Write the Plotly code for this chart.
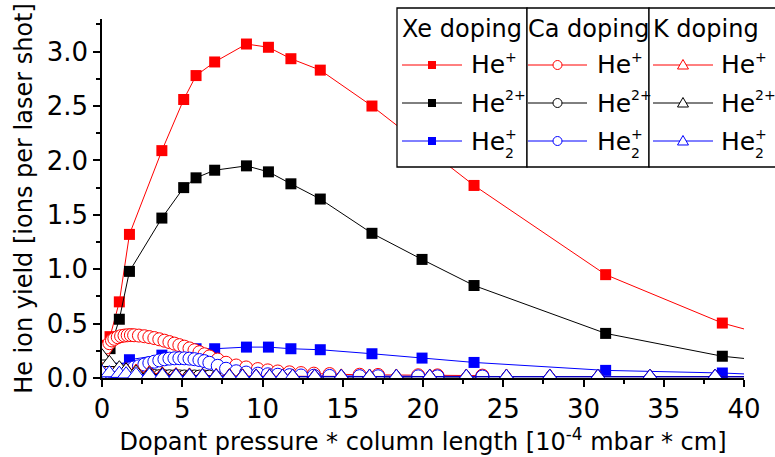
import plotly.graph_objects as go

# ---------------- data ----------------
xe_x = [0.15, 0.5, 1.08, 1.71, 3.73, 5.09, 5.86, 7.02, 9.0, 10.37, 11.77, 13.6,
        16.82, 19.94, 23.18, 31.38, 38.65, 46.0]
xe_he_p = [0.30, 0.38, 0.70, 1.32, 2.09, 2.56, 2.78, 2.905, 3.07, 3.04, 2.935, 2.83,
           2.50, 2.14, 1.77, 0.95, 0.505, 0.21]
xe_he_2p = [0.12, 0.27, 0.54, 0.98, 1.47, 1.75, 1.84, 1.91, 1.95, 1.895, 1.785, 1.645,
            1.33, 1.09, 0.85, 0.41, 0.20, 0.09]
xe_he2_p = [0.03, 0.05, 0.09, 0.168, 0.21, 0.244, 0.269, 0.269, 0.284, 0.284, 0.269, 0.26,
            0.223, 0.183, 0.143, 0.07, 0.046, 0.0]

ca_x = [0.0, 0.1, 0.25, 0.46, 0.62, 0.77, 0.98, 1.19, 1.4, 1.6, 1.8, 2.0, 2.3, 2.64,
        2.95, 3.26, 3.57, 3.89, 4.2, 4.51, 4.82, 5.13, 5.45, 5.76, 6.07, 6.38, 6.69,
        7.21, 7.73, 8.36, 8.98, 9.71, 10.33, 10.95, 11.68, 12.4, 13.2, 14.18, 16.05,
        17.2, 19.7, 20.9, 23.7]
ca_he_p = [0.19, 0.24, 0.28, 0.32, 0.345, 0.36, 0.375, 0.385, 0.39, 0.393, 0.394, 0.393,
           0.39, 0.384, 0.376, 0.367, 0.356, 0.343, 0.33, 0.316, 0.302, 0.288, 0.272,
           0.255, 0.237, 0.218, 0.198, 0.17, 0.14, 0.115, 0.097, 0.082, 0.07, 0.06,
           0.052, 0.045, 0.04, 0.036, 0.03, 0.028, 0.025, 0.024, 0.022]
ca_he_2p = [0.17, 0.15, 0.125, 0.10, 0.085, 0.072, 0.06, 0.05, 0.043, 0.037, 0.032, 0.028,
            0.024, 0.021, 0.019, 0.018, 0.017, 0.016, 0.016, 0.015, 0.015, 0.014, 0.014,
            0.014, 0.013, 0.013, 0.013, 0.012, 0.012, 0.012, 0.012, 0.011, 0.011, 0.011,
            0.011, 0.011, 0.01, 0.01, 0.01, 0.01, 0.01, 0.01, 0.01]
ca_he2_p = [0.045, 0.047, 0.05, 0.054, 0.058, 0.062, 0.067, 0.072, 0.077, 0.083, 0.09,
            0.097, 0.108, 0.124, 0.138, 0.15, 0.162, 0.172, 0.178, 0.181, 0.182, 0.181,
            0.178, 0.173, 0.165, 0.155, 0.14, 0.112, 0.085, 0.062, 0.05, 0.04, 0.034,
            0.03, 0.026, 0.023, 0.021, 0.019, 0.017, 0.016, 0.015, 0.015, 0.014]

k_x = [0.0, 0.46, 1.08, 1.5, 2.12, 2.95, 3.76, 4.61, 5.45, 6.26, 7.11, 7.94, 8.75, 9.6,
       10.44, 11.25, 11.88, 13.25, 14.91, 16.67, 18.34, 20.42, 22.7, 25.2, 27.9, 30.9,
       34.14, 38.2, 42.5]
k_he_p = [0.075, 0.075, 0.074, 0.072, 0.06, 0.045, 0.035, 0.028, 0.024, 0.021, 0.019,
          0.018, 0.017, 0.016, 0.015, 0.015, 0.015, 0.015, 0.015, 0.014, 0.014, 0.014,
          0.014, 0.014, 0.014, 0.013, 0.013, 0.013, 0.013]
k_he_2p = [0.20, 0.14, 0.09, 0.07, 0.05, 0.035, 0.028, 0.022, 0.02, 0.018, 0.016, 0.015,
           0.014, 0.013, 0.013, 0.012, 0.012, 0.012, 0.012, 0.012, 0.012, 0.012, 0.012,
           0.012, 0.012, 0.012, 0.012, 0.012, 0.012]
k_he2_p = [0.05, 0.045, 0.04, 0.035, 0.03, 0.025, 0.02, 0.018, 0.016, 0.015, 0.014, 0.013,
           0.012, 0.012, 0.012, 0.012, 0.012, 0.011, 0.011, 0.011, 0.011, 0.011, 0.011,
           0.011, 0.011, 0.011, 0.011, 0.011, 0.011]

x_ticks = [0, 5, 10, 15, 20, 25, 30, 35, 40]
y_ticks = [0.0, 0.5, 1.0, 1.5, 2.0, 2.5, 3.0]
group_titles = ["Xe doping", "Ca doping", "K doping"]
ion_base = ["He", "He", "He"]
ion_sup = ["+", "2+", "+"]
ion_sub = ["", "", "2"]

RED, BLACK, BLUE = "#ff0000", "#000000", "#0000ff"
colors = [RED, BLACK, BLUE]
FONT = "DejaVu Sans"

fig = go.Figure()

series = [
    ("Xe", xe_x, [xe_he_p, xe_he_2p, xe_he2_p]),
    ("Ca", ca_x, [ca_he_p, ca_he_2p, ca_he2_p]),
    ("K", k_x, [k_he_p, k_he_2p, k_he2_p]),
]
names = ["He+", "He2+", "He2+ (dimer)"]
for grp, xs, ys_list in series:
    for ys, c, nm in zip(ys_list, colors, names):
        if grp == "Xe":
            marker = dict(symbol="square", size=11, color=c, line=dict(width=0))
        elif grp == "Ca":
            marker = dict(symbol="circle", size=13, color="white", line=dict(color=c, width=1))
        else:
            marker = dict(symbol="triangle-up", size=15, color="white", line=dict(color=c, width=1))
        fig.add_trace(go.Scatter(
            x=xs, y=ys, mode="lines+markers", name=f"{grp} doping {nm}",
            line=dict(color=c, width=1), marker=marker, showlegend=False))

# ---------------- geometry helpers for legend (pixels -> paper) ----------------
L, R, T, B = 102, 31, 19, 79
W, H = 775, 457
PW, PH = W - L - R, H - T - B


def X(px):
    return (px - L) / PW


def Y(py):
    return (H - B - py) / PH


shapes = []
annotations = []
box_x = [397, 527, 649, 800]
box_top, box_bot = 8, 167
for i in range(3):
    shapes.append(dict(type="rect", xref="paper", yref="paper",
                       x0=X(box_x[i]), x1=X(box_x[i + 1]), y0=Y(box_bot), y1=Y(box_top),
                       line=dict(color="black", width=1.3), fillcolor="white", layer="above"))

row_y = [65, 103, 141]
sup_y = [57, 95, 134]
sub_y = [0, 0, 153]
line_x = [(402, 462), (528, 587), (653, 713)]
text_x = [469, 595, 719]
title_x = [400, 526, 651]


def txt(s, px, py, size):
    return dict(text=s, xref="paper", yref="paper", x=X(px), y=Y(py),
                xanchor="left", yanchor="middle", showarrow=False,
                font=dict(family=FONT, size=size, color="black"))


for g in range(3):
    annotations.append(txt(group_titles[g], title_x[g], 29, 24))
    lx0, lx1 = line_x[g]
    cx = (lx0 + lx1) / 2
    for r in range(3):
        cy = row_y[r]
        c = colors[r]
        shapes.append(dict(type="line", xref="paper", yref="paper",
                           x0=X(lx0), x1=X(lx1), y0=Y(cy), y1=Y(cy),
                           line=dict(color=c, width=1)))
        if g == 0:
            shapes.append(dict(type="rect", xref="paper", yref="paper",
                               x0=X(cx - 4), x1=X(cx + 4), y0=Y(cy + 4), y1=Y(cy - 4),
                               line=dict(width=0), fillcolor=c))
        elif g == 1:
            shapes.append(dict(type="circle", xref="paper", yref="paper",
                               x0=X(cx - 4.5), x1=X(cx + 4.5), y0=Y(cy + 4.5), y1=Y(cy - 4.5),
                               line=dict(color=c, width=1), fillcolor="white"))
        else:
            path = "M {:.5f},{:.5f} L {:.5f},{:.5f} L {:.5f},{:.5f} Z".format(
                X(cx), Y(cy - 5.5), X(cx - 5.5), Y(cy + 4), X(cx + 5.5), Y(cy + 4))
            shapes.append(dict(type="path", xref="paper", yref="paper", path=path,
                               line=dict(color=c, width=1), fillcolor="white"))
        annotations.append(txt(ion_base[r], text_x[g], cy, 25))
        annotations.append(txt(ion_sup[r], text_x[g] + 34, sup_y[r], 14))
        if ion_sub[r]:
            annotations.append(txt(ion_sub[r], text_x[g] + 34, sub_y[r], 14))

axis_common = dict(showgrid=False, zeroline=False, showline=True, linecolor="black",
                   linewidth=1.5, tickcolor="black", tickwidth=1.5)

fig.update_layout(
    width=W, height=H,
    margin=dict(l=L, r=R, t=T, b=B, autoexpand=False),
    paper_bgcolor="white", plot_bgcolor="white",
    font=dict(family=FONT, color="black"),
    showlegend=False,
    shapes=shapes, annotations=annotations,
    xaxis=dict(range=[0, 40], tickmode="array", tickvals=x_ticks,
               ticks="outside", ticklen=7,
               minor=dict(dtick=2.5, tick0=0, ticks="outside", ticklen=4,
                          tickwidth=1.5, tickcolor="black"),
               tickfont=dict(size=26),
               title=dict(text="Dopant pressure * column length [10<sup>-4</sup> mbar * cm]",
                          font=dict(size=24), standoff=10),
               **axis_common),
    yaxis=dict(range=[0, 3.3], tickmode="array", tickvals=y_ticks, tickformat=".1f",
               ticks="outside", ticklen=7,
               minor=dict(dtick=0.25, tick0=0, ticks="outside", ticklen=4,
                          tickwidth=1.5, tickcolor="black"),
               tickfont=dict(size=26),
               title=dict(text="He ion yield [ions per laser shot]", font=dict(size=24),
                          standoff=7),
               **axis_common),
    xaxis2=dict(overlaying="x", side="top", anchor="y", range=[0, 40], dtick=2.5, tick0=0,
                ticks="inside", ticklen=6, showticklabels=False, **axis_common),
    yaxis2=dict(overlaying="y", side="right", anchor="x", range=[0, 3.3], dtick=0.25,
                tick0=0, ticks="inside", ticklen=6, showticklabels=False, **axis_common),
)

fig.write_html("out.html", config={"displayModeBar": False},
               post_script="document.body.style.margin='0px';")
